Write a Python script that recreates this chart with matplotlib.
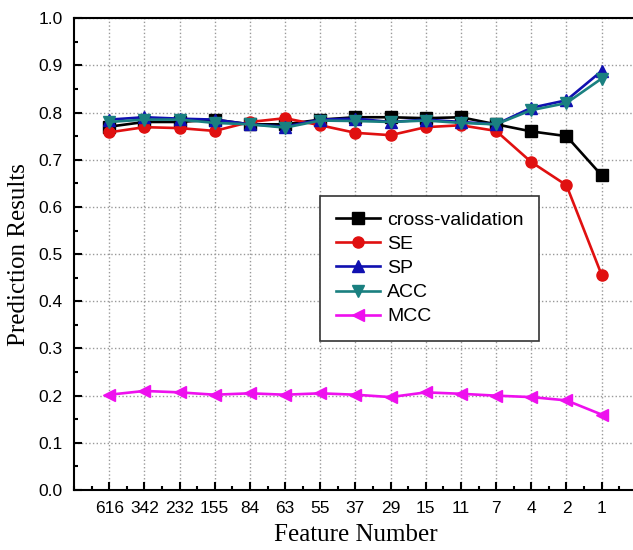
'''plot.py
Prediction results versus number of selected features.
'''

import matplotlib
matplotlib.use('Agg')
import matplotlib.pyplot as plt
from matplotlib.ticker import MultipleLocator

features = ['616', '342', '232', '155', '84', '63', '55', '37',
            '29', '15', '11', '7', '4', '2', '1']

cv = [0.770, 0.780, 0.780, 0.785, 0.775, 0.775, 0.785, 0.790,
      0.790, 0.788, 0.790, 0.775, 0.760, 0.750, 0.667]
se = [0.758, 0.769, 0.767, 0.761, 0.780, 0.788, 0.773, 0.757,
      0.752, 0.769, 0.773, 0.761, 0.695, 0.646, 0.456]
sp = [0.785, 0.790, 0.787, 0.785, 0.775, 0.770, 0.785, 0.787,
      0.780, 0.785, 0.780, 0.775, 0.810, 0.826, 0.888]
acc = [0.780, 0.785, 0.785, 0.778, 0.775, 0.768, 0.783, 0.782,
       0.780, 0.783, 0.778, 0.775, 0.805, 0.820, 0.872]
mcc = [0.202, 0.210, 0.207, 0.202, 0.205, 0.202, 0.205, 0.202,
       0.197, 0.207, 0.204, 0.200, 0.197, 0.190, 0.160]

x = list(range(1, len(features) + 1))

fig = plt.figure(figsize=(6.33, 5.5), dpi=100)
ax = fig.add_axes([0.117, 0.109, 0.889, 0.858])

kw = dict(lw=1.9, ms=8, clip_on=False)
ax.plot(x, cv, color='black', marker='s', label='cross-validation', **kw)
ax.plot(x, se, color='#e01010', marker='o', label='SE', **kw)
ax.plot(x, sp, color='#1010b0', marker='^', label='SP', **kw)
ax.plot(x, acc, color='#1a8080', marker='v', label='ACC', **kw)
ax.plot(x, mcc, color='#ee10ee', marker='<', label='MCC', **kw)

ax.set_xlim(0, 16)
ax.set_ylim(0, 1.0)
ax.set_xticks(x)
ax.set_xticklabels(features)
ax.xaxis.set_minor_locator(MultipleLocator(0.5))
ax.yaxis.set_major_locator(MultipleLocator(0.1))
ax.yaxis.set_minor_locator(MultipleLocator(0.05))
ax.set_yticklabels(['{:.1f}'.format(v) for v in ax.get_yticks()])

for lab in ax.get_xticklabels() + ax.get_yticklabels():
    lab.set_family('Liberation Sans')
    lab.set_fontsize(12.5)

ax.tick_params(which='both', direction='in', top=False, right=False,
               width=1.5)
ax.tick_params(which='major', length=6, pad=8)
ax.tick_params(which='minor', length=3)
ax.grid(which='major', color='#999999', linestyle=':', lw=1.0)
for s in ax.spines.values():
    s.set_linewidth(1.5)

ax.set_xlabel('Feature Number', family='Liberation Serif', fontsize=18,
              labelpad=6)
ax.set_ylabel('Prediction Results', family='Liberation Serif', fontsize=18,
              labelpad=6)

leg = ax.legend(loc='upper left', bbox_to_anchor=(0.437, 0.623),
                prop={'family': 'Liberation Sans', 'size': 14},
                fancybox=False, edgecolor='#333333', framealpha=1,
                handlelength=2.3, handletextpad=0.35, borderpad=0.8,
                labelspacing=0.33, borderaxespad=0)
leg.get_frame().set_linewidth(1.2)

plt.savefig('out.png', dpi=100)
